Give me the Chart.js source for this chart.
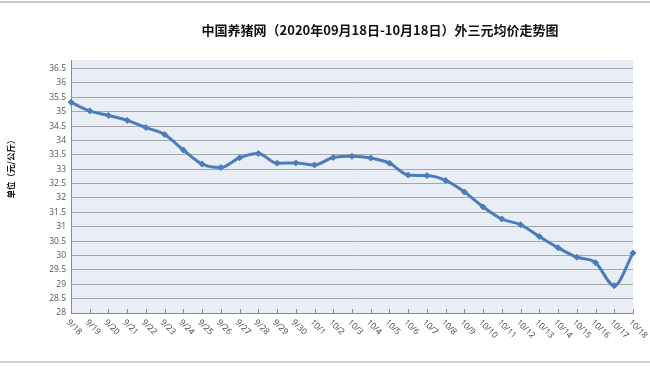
<!DOCTYPE html>
<html>
<head>
<meta charset="utf-8">
<script src="https://cdn.jsdelivr.net/npm/chart.js@4"></script>
<style>
    html, body { margin: 0; padding: 0; background: #fff; }
    #wrap { position: relative; width: 650px; height: 366px; }
    #title {
        position: absolute; left: 0; width: 760px; top: 20px; text-align: center;
        font: bold 13px "Noto Sans CJK SC", sans-serif; color: #111;
    }
    #topline { position: absolute; left: 0; right: 0; top: 1px; height: 2px; background: #c8c8c8; }
    #botline { position: absolute; left: 0; right: 0; top: 361px; height: 2px; background: #d0d0d0; }
    canvas { position: absolute; left: 0; top: 0; }
</style>
</head>
<body>
<div id="wrap">
    <canvas id="priceChart" width="650" height="366"></canvas>
    <div id="topline"></div>
    <div id="botline"></div>
    <div id="title">中国养猪网（2020年09月18日-10月18日）外三元均价走势图</div>
</div>
<script>
const dateLabels = ['9/18', '9/19', '9/20', '9/21', '9/22', '9/23', '9/24', '9/25', '9/26', '9/27', '9/28',
    '9/29', '9/30', '10/1', '10/2', '10/3', '10/4', '10/5', '10/6', '10/7', '10/8', '10/9', '10/10',
    '10/11', '10/12', '10/13', '10/14', '10/15', '10/16', '10/17', '10/18'];
const priceValues = [35.33, 35.03, 34.87, 34.70, 34.45, 34.21, 33.67, 33.18, 33.06, 33.40, 33.55,
    33.21, 33.22, 33.15, 33.41, 33.45, 33.39, 33.21, 32.80, 32.78, 32.61, 32.21, 31.69,
    31.27, 31.07, 30.66, 30.27, 29.94, 29.75, 28.95, 30.09];
const yTicks = [28, 28.5, 29, 29.5, 30, 30.5, 31, 31.5, 32, 32.5, 33, 33.5, 34, 34.5, 35, 35.5, 36, 36.5];
const yAxisTitle = '单位（元/公斤）';

// plot background + slanted date labels + inner tick marks
const excelLook = {
    id: 'excelLook',
    beforeDraw(chart) {
        const a = chart.chartArea;
        const ctx = chart.ctx;
        ctx.save();
        ctx.fillStyle = '#e9edf5';
        ctx.fillRect(a.left, a.top, a.right - a.left, a.bottom - a.top);
        ctx.restore();
    },
    afterDraw(chart) {
        const ctx = chart.ctx;
        const x = chart.scales.x;
        const a = chart.chartArea;
        ctx.save();
        ctx.strokeStyle = '#8c8c8c';
        ctx.lineWidth = 1;
        ctx.beginPath();
        x.ticks.forEach((t, i) => {
            const px = Math.round(x.getPixelForTick(i)) + 0.5;
            ctx.moveTo(px, a.bottom);
            ctx.lineTo(px, a.bottom - 4);
        });
        ctx.stroke();
        ctx.fillStyle = '#444';
        ctx.font = '8.5px "Open Sans", sans-serif';
        ctx.textAlign = 'left';
        ctx.textBaseline = 'middle';
        dateLabels.forEach((lab, i) => {
            const px = x.getPixelForTick(i);
            ctx.save();
            ctx.translate(px - 3, a.bottom + 8);
            ctx.rotate(Math.PI / 4);
            ctx.fillText(lab, 0, 0);
            ctx.restore();
        });
        // y axis title
        ctx.font = 'bold 8.5px "Noto Sans CJK SC", sans-serif';
        ctx.fillStyle = '#111';
        ctx.textAlign = 'center';
        ctx.save();
        ctx.translate(11, 167);
        ctx.rotate(-Math.PI / 2);
        ctx.fillText(yAxisTitle, 0, 0);
        ctx.restore();
        ctx.restore();
    }
};

new Chart(document.getElementById('priceChart').getContext('2d'), {
    type: 'line',
    data: {
        labels: dateLabels,
        datasets: [{
            data: priceValues,
            borderColor: '#4a7dbb',
            backgroundColor: '#4a7dbb',
            borderWidth: 3,
            tension: 0.4,
            cubicInterpolationMode: 'monotone',
            pointStyle: 'rectRot',
            pointRadius: 3,
            pointBorderWidth: 1,
            fill: false
        }]
    },
    options: {
        responsive: false,
        animation: false,
        layout: { padding: { top: 60, right: 17, left: 0, bottom: 0 } },
        plugins: { legend: { display: false }, tooltip: { enabled: false } },
        scales: {
            x: {
                offset: false,
                grid: { display: false, drawTicks: false },
                border: { color: '#8c8c8c', width: 1 },
                ticks: { display: false },
                afterFit(scale) { scale.height = 53; }
            },
            y: {
                min: 28,
                max: 36.8,
                afterBuildTicks(scale) { scale.ticks = yTicks.map(v => ({ value: v })); },
                afterFit(scale) { scale.width = 71; },
                grid: { color: '#a6a6a6', drawTicks: false, lineWidth: 1 },
                border: { color: '#8c8c8c', width: 1 },
                ticks: {
                    color: '#555',
                    padding: 5,
                    font: { size: 8.5, family: '"Open Sans", sans-serif' },
                    callback: v => String(v)
                }
            }
        }
    },
    plugins: [excelLook]
});
</script>
</body>
</html>
